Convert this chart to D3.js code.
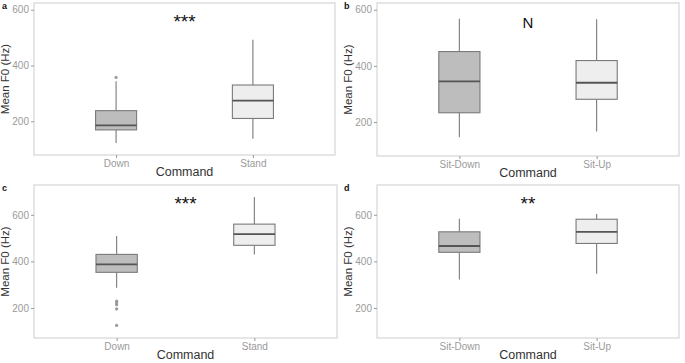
<!DOCTYPE html>
<html><head><meta charset="utf-8">
<script src="https://cdn.jsdelivr.net/npm/d3@7"></script>
<style>body{margin:0;background:#fff;} svg{display:block;font-family:"Liberation Sans",Arial,sans-serif;}</style>
</head><body>
<svg id="c" width="685" height="363"></svg>
<script>
// ---- data ----
const panelLetters = ["a","b","c","d"];
const panelCategories = [["Down","Stand"],["Sit-Down","Sit-Up"],["Down","Stand"],["Sit-Down","Sit-Up"]];
const panelSignif = ["***","N","***","**"];
const whiskerLow  = [[122,137],[146,166],[287,430],[322,347]];
const quartile1   = [[169,210],[233,281],[353,469],[439,477]];
const medians     = [[185,274],[345,340],[387,517],[466,527]];
const quartile3   = [[238,330],[451,419],[430,560],[527,581]];
const whiskerHigh = [[343,492],[568,566],[509,676],[583,603]];
const outliers    = [[[357],[]],[[],[]],[[229,222,214,196,125],[]],[[],[]]];
const yTicks = [200,400,600];
const yDomains = [[79,624],[79,624],[71,728],[71,728]];

// ---- layout ----
const frames = [
  {x0:34,x1:335,y0:3,y1:155},
  {x0:377,x1:679,y0:3,y1:156},
  {x0:34,x1:337,y0:185,y1:338},
  {x0:377,x1:679,y0:185,y1:338}
];
const fills = ["#bdbdbd","#eeeeee"];
const svg = d3.select("#c");

frames.forEach((f,i)=>{
  const g = svg.append("g");
  // ggplot discrete: positions at 1,2 with range [0.4,2.6]
  const xs = d3.scaleLinear().domain([0.4,2.6]).range([f.x0,f.x1]);
  const xpos = c => xs(panelCategories[i].indexOf(c)+1);
  const y = d3.scaleLinear().domain(yDomains[i]).range([f.y1,f.y0]);
  const bw = (xs(1.15)-xs(0.85));

  g.append("rect").attr("x",f.x0).attr("y",f.y0).attr("width",f.x1-f.x0).attr("height",f.y1-f.y0)
    .attr("fill","#fff").attr("stroke","#d6d6d6").attr("stroke-width",1.2);

  const ya = g.append("g").attr("transform",`translate(${f.x0},0)`)
    .call(d3.axisLeft(y).tickValues(yTicks).tickSize(3).tickPadding(2));
  ya.select(".domain").remove();
  ya.selectAll("line").attr("stroke","#999");
  ya.selectAll("text").attr("fill","#9a9a9a").attr("font-size",10).style("font-family","Liberation Sans, Arial, sans-serif");

  const xa = g.append("g").attr("transform",`translate(0,${f.y1})`)
    .call(d3.axisBottom(xs).tickValues([1,2]).tickFormat(d=>panelCategories[i][d-1]).tickSize(3).tickPadding(2));
  xa.select(".domain").remove();
  xa.selectAll("line").attr("stroke","#999");
  xa.selectAll("text").attr("fill","#9a9a9a").attr("font-size",10).style("font-family","Liberation Sans, Arial, sans-serif");

  panelCategories[i].forEach((c,j)=>{
    const cx = xpos(c);
    g.append("line").attr("x1",cx).attr("x2",cx).attr("y1",y(quartile3[i][j])).attr("y2",y(whiskerHigh[i][j]))
      .attr("stroke","#7a7a7a").attr("stroke-width",1.1);
    g.append("line").attr("x1",cx).attr("x2",cx).attr("y1",y(quartile1[i][j])).attr("y2",y(whiskerLow[i][j]))
      .attr("stroke","#7a7a7a").attr("stroke-width",1.1);
    g.append("rect").attr("x",cx-bw/2).attr("width",bw)
      .attr("y",y(quartile3[i][j])).attr("height",y(quartile1[i][j])-y(quartile3[i][j]))
      .attr("fill",fills[j]).attr("stroke","#7a7a7a").attr("stroke-width",1.1);
    g.append("line").attr("x1",cx-bw/2).attr("x2",cx+bw/2).attr("y1",y(medians[i][j])).attr("y2",y(medians[i][j]))
      .attr("stroke","#555").attr("stroke-width",1.8);
    g.selectAll(null).data(outliers[i][j]).enter().append("circle")
      .attr("cx",cx).attr("cy",d=>y(d)).attr("r",1.6).attr("fill","#9a9a9a");
  });

  const midx = (f.x0+f.x1)/2;
  g.append("text").attr("x",midx).attr("y",f.y1+21).attr("text-anchor","middle")
    .attr("font-size",12.5).attr("fill","#333").text("Command");
  const ymid = (f.y0+f.y1)/2;
  g.append("text").attr("transform",`translate(${f.x0-25},${ymid}) rotate(-90)`).attr("text-anchor","middle")
    .attr("font-size",11.5).attr("fill","#333").text("Mean F0 (Hz)");
  g.append("text").attr("x",f.x0-32 + (i%2? -1:0)).attr("y",f.y0+6).attr("font-size",9).attr("font-weight","bold")
    .attr("fill","#111").text(panelLetters[i]);
  const sx = (xpos(panelCategories[i][0])+xpos(panelCategories[i][1]))/2;
  const isStar = panelSignif[i] !== "N";
  g.append("text").attr("x",sx).attr("y",f.y0 + (isStar ? 25 : 25)).attr("text-anchor","middle")
    .attr("font-size",isStar ? 19 : 15).attr("fill","#111").text(panelSignif[i]);
});
</script>
</body></html>
